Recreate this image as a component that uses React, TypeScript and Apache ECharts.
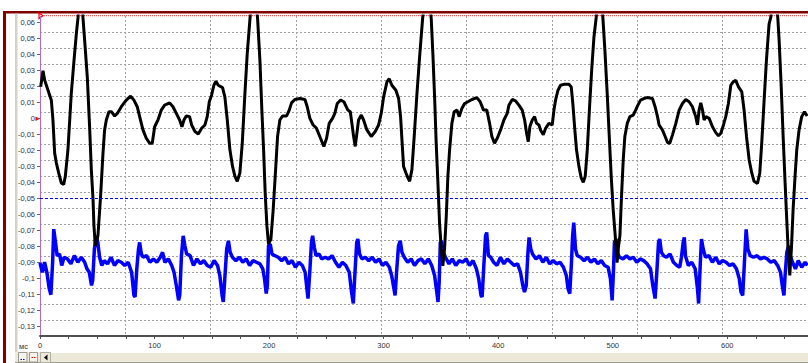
import React, { useEffect, useRef } from "react";
import * as echarts from "echarts";

// [time ms, value]
const blackTrace: [number, number][] = [
  [0.6, 0.02], [2.6, 0.03], [4.1, 0.024], [7.0, 0.0178], [9.9, 0.0116], [11.3, -0.0008], [12.8, -0.0215],
  [14.3, -0.0277], [16.3, -0.0339], [18.6, -0.0401], [20.7, -0.0411], [22.1, -0.036], [24.4, -0.0194],
  [27.3, 0.0157], [29.7, 0.0364], [31.7, 0.0529], [33.2, 0.0633], [35.4, 0.09], [37.5, 0.0633], [39.0, 0.0488],
  [41.3, 0.026], [43.3, -0.0049], [44.8, -0.0318], [46.3, -0.0504], [47.1, -0.067], [48.3, -0.0794],
  [50.6, -0.073], [52.9, -0.0483], [55.0, -0.0215], [56.4, -0.007], [57.9, -0.0008], [60.2, 0.0044],
  [62.3, 0.0044], [65.2, 0.0017], [67.5, 0.0033], [71.0, 0.0075], [75.3, 0.0116], [79.1, 0.0141],
  [82.0, 0.0116], [84.9, 0.0075], [87.0, 0.0013], [89.9, -0.007], [92.8, -0.0122], [95.7, -0.0153],
  [98.0, -0.0153], [100.1, -0.005], [103.0, -0.0008], [105.9, 0.0054], [108.8, 0.0085], [113.2, 0.0099],
  [116.1, 0.0075], [119.0, 0.0033], [121.9, -0.0008], [123.9, -0.005], [125.7, -0.0008], [127.7, 0.0017],
  [130.6, 0.0013], [132.4, -0.0039], [135.3, -0.008], [138.2, -0.0095], [141.1, -0.006], [144.0, -0.0039],
  [146.0, 0.0013], [147.8, 0.0106], [149.8, 0.0147], [151.8, 0.0209], [153.6, 0.0234], [155.6, 0.0209],
  [159.4, 0.0194], [161.4, 0.0137], [163.5, -0.0008], [165.8, -0.0194], [168.1, -0.0298], [170.2, -0.036],
  [172.2, -0.0391], [174.5, -0.0339], [176.6, -0.0153], [178.9, 0.0157], [180.9, 0.0405], [183.3, 0.0622],
  [186.6, 0.09], [190.0, 0.0622], [192.0, 0.0364], [193.7, 0.0054], [195.2, -0.0194], [196.6, -0.0463],
  [198.1, -0.067], [199.5, -0.0783], [201.6, -0.0752], [203.6, -0.0566], [205.7, -0.0318], [207.4, -0.0111],
  [209.4, -0.0008], [211.8, 0.0017], [215.3, 0.0017], [217.6, 0.0054], [219.6, 0.0099], [222.5, 0.012],
  [226.9, 0.0126], [231.3, 0.012], [233.3, 0.0075], [235.6, 0.0002], [238.5, -0.0039], [241.4, -0.006],
  [244.9, -0.0122], [247.8, -0.0173], [250.2, -0.0122], [252.5, -0.0029], [255.4, 0.0002], [257.4, 0.0033],
  [259.5, 0.0095], [262.4, 0.0116], [265.3, 0.0106], [268.8, 0.0054], [270.9, 0.0044], [272.3, -0.0029],
  [273.8, -0.0111], [275.2, -0.0173], [276.7, -0.009], [278.1, -0.0008], [280.5, 0.0023], [282.5, -0.0008],
  [285.4, -0.007], [289.2, -0.0111], [292.7, -0.008], [295.6, -0.0039], [297.9, 0.0033], [300.0, 0.0137],
  [302.9, 0.023], [304.9, 0.025], [307.2, 0.0209], [310.7, 0.0178], [313.1, 0.0126], [314.8, 0.0013],
  [316.0, -0.0132], [317.4, -0.0298], [319.5, -0.0339], [321.2, -0.037], [322.7, -0.0391], [324.7, -0.0318],
  [326.7, -0.0111], [329.1, 0.0157], [331.4, 0.0385], [334.0, 0.0622], [337.8, 0.09], [341.6, 0.0622],
  [343.0, 0.0405], [344.5, 0.0137], [345.9, -0.0153], [347.4, -0.04], [348.8, -0.0649], [350.3, -0.0814],
  [351.7, -0.092], [353.2, -0.0814], [354.7, -0.0608], [356.1, -0.036], [357.6, -0.0194], [359.6, -0.0029],
  [361.6, 0.0044], [364.0, 0.0054], [366.0, 0.0013], [368.3, 0.0064], [370.7, 0.0095], [373.6, 0.0106],
  [377.1, 0.012], [381.4, 0.0132], [384.3, 0.0106], [387.2, 0.0054], [390.1, 0.0054], [392.5, -0.0029],
  [394.5, -0.0111], [396.8, -0.0153], [399.2, -0.0122], [402.1, -0.007], [405.0, -0.0008], [407.9, 0.0033],
  [409.4, 0.0085], [412.3, 0.012], [415.2, 0.0112], [418.1, 0.0085], [421.0, 0.0054], [423.1, -0.0008],
  [424.8, -0.009], [426.3, -0.0143], [427.7, -0.0049], [429.8, -0.0008], [431.8, 0.0013], [433.5, -0.0029],
  [435.6, -0.0039], [437.0, -0.007], [439.4, -0.0101], [441.4, -0.006], [444.3, -0.0029], [447.2, -0.0039],
  [448.7, 0.0054], [450.1, 0.0116], [452.2, 0.0178], [454.5, 0.0209], [457.4, 0.0215], [461.8, 0.0215],
  [463.8, 0.0199], [465.2, 0.0095], [466.7, -0.005], [468.4, -0.0194], [470.5, -0.0298], [472.5, -0.037],
  [474.3, -0.0397], [476.0, -0.036], [477.8, -0.0194], [479.8, 0.0075], [481.8, 0.0323], [483.6, 0.0509],
  [485.6, 0.0633], [488.5, 0.09], [491.4, 0.0633], [493.2, 0.0426], [495.2, 0.0157], [497.0, -0.0111],
  [498.7, -0.036], [500.4, -0.0566], [502.2, -0.0732], [503.8, -0.09], [505.0, -0.0804], [506.3, -0.073],
  [507.7, -0.0483], [509.2, -0.0256], [510.6, -0.0111], [512.7, -0.0029], [515.0, 0.0013], [517.9, 0.0023],
  [520.0, 0.0054], [522.0, 0.0085], [524.3, 0.0116], [527.2, 0.0126], [530.1, 0.0132], [534.7, 0.0126],
  [537.0, 0.0075], [539.1, 0.0013], [540.5, -0.0039], [543.4, -0.007], [545.8, -0.0111], [547.8, -0.0149],
  [549.8, -0.0153], [552.2, -0.0101], [555.1, -0.0029], [558.0, 0.0054], [560.9, 0.0095], [563.8, 0.012],
  [566.7, 0.0106], [569.6, 0.0075], [572.5, 0.0013], [574.0, -0.0039], [575.4, 0.0054], [576.9, 0.0099],
  [578.4, 0.0054], [579.8, -0.0008], [581.3, 0.0013], [584.2, 0.0002], [587.1, -0.005], [590.0, -0.0087],
  [592.3, -0.0107], [594.4, -0.0091], [596.7, -0.0039], [598.7, 0.0013], [601.0, 0.0095], [603.1, 0.0209],
  [605.1, 0.023], [607.4, 0.024], [609.8, 0.0199], [612.7, 0.0168], [614.7, 0.0054], [616.8, -0.0111],
  [619.1, -0.0256], [621.4, -0.0339], [623.4, -0.0391], [626.4, -0.0405], [628.4, -0.0339], [630.1, -0.0153],
  [632.2, 0.0116], [634.2, 0.0364], [636.5, 0.0591], [638.0, 0.0633], [640.9, 0.09], [644.1, 0.0633],
  [645.3, 0.0488], [647.0, 0.0219], [648.8, -0.0111], [650.5, -0.04], [652.2, -0.067], [653.4, -0.0856],
  [654.6, -0.098], [656.0, -0.0814], [657.5, -0.0566], [659.2, -0.036], [660.7, -0.0194], [662.7, -0.007],
  [665.0, 0.0013], [667.4, 0.0044], [669.7, 0.0017],
];

const blueTrace: [number, number][] = [
  [0, -0.09], [2, -0.096], [4, -0.0897], [6, -0.096], [8, -0.106], [9.5, -0.11], [11, -0.09], [12, -0.069],
  [13.5, -0.077], [15, -0.0856], [17, -0.0845], [19, -0.0917], [21, -0.0866], [24, -0.0876], [27, -0.0907],
  [30, -0.0856], [33, -0.0897], [36, -0.0866], [39, -0.0897], [41, -0.0938], [43, -0.096], [45, -0.1042],
  [46, -0.101], [47.5, -0.0814], [49, -0.0732], [50.5, -0.0773], [52, -0.0866], [54, -0.0917], [56, -0.0887],
  [59, -0.0907], [62, -0.0866], [65, -0.0917], [68, -0.0887], [71, -0.0897], [74, -0.0917], [77, -0.0897],
  [80, -0.096], [82, -0.1104], [83, -0.1114], [84.5, -0.0938], [86, -0.0814], [87, -0.0773], [88.5, -0.0845],
  [90, -0.0866], [93, -0.0856], [96, -0.0897], [99, -0.0876], [102, -0.0897], [105, -0.0866], [107, -0.0835],
  [109, -0.0897], [112, -0.0876], [115, -0.0917], [117, -0.096], [119, -0.1042], [121, -0.1135], [122, -0.1104],
  [123.5, -0.0856], [125, -0.0732], [126.5, -0.0794], [128, -0.0845], [131, -0.0856], [134, -0.0917],
  [137, -0.0876], [140, -0.0907], [143, -0.0887], [146, -0.0917], [149, -0.0928], [152, -0.0887],
  [155, -0.0917], [157, -0.098], [159, -0.1104], [160, -0.1145], [161.5, -0.098], [163, -0.0814],
  [164.5, -0.0763], [166, -0.0835], [168, -0.0866], [171, -0.0887], [174, -0.0866], [177, -0.0897],
  [180, -0.0876], [183, -0.0917], [186, -0.0887], [189, -0.0897], [192, -0.0907], [194.5, -0.0938],
  [196, -0.1], [197.5, -0.1093], [198.5, -0.1042], [199.5, -0.0794], [201, -0.0783], [202.5, -0.0845],
  [205, -0.0856], [208, -0.0866], [211, -0.0887], [214, -0.0866], [217, -0.0907], [220, -0.0887],
  [223, -0.0928], [226, -0.0897], [229, -0.0917], [231.5, -0.096], [233, -0.1062], [234, -0.1124],
  [235.5, -0.096], [237, -0.0773], [238, -0.0732], [239.5, -0.0804], [241, -0.0856], [243.5, -0.0845],
  [246, -0.0876], [249, -0.0866], [252, -0.0876], [255, -0.0856], [258, -0.0897], [261, -0.0928],
  [264, -0.0897], [267, -0.0917], [270, -0.096], [272, -0.1083], [273.5, -0.1155], [275, -0.096],
  [276.5, -0.0773], [277.5, -0.0752], [279, -0.0845], [281, -0.0876], [284, -0.0866], [287, -0.0887],
  [290, -0.0866], [293, -0.0897], [296, -0.0876], [299, -0.0917], [302, -0.0897], [305, -0.0928],
  [307, -0.098], [309, -0.1062], [310, -0.1104], [311.5, -0.0938], [313, -0.0794], [314.5, -0.0763],
  [316, -0.0835], [318, -0.0866], [321, -0.0897], [324, -0.0876], [327, -0.0917], [330, -0.0887],
  [333, -0.0876], [336, -0.0907], [339, -0.0876], [342, -0.0917], [344.5, -0.098], [346, -0.1062],
  [347.5, -0.1145], [348.5, -0.1021], [349.5, -0.0773], [350.5, -0.0763], [352, -0.0835], [354, -0.0866],
  [357, -0.0907], [360, -0.0876], [363, -0.0917], [366, -0.0887], [369, -0.0897], [372, -0.0876],
  [375, -0.0917], [378, -0.0887], [381, -0.0938], [383, -0.1], [385, -0.1104], [386, -0.1114],
  [387.5, -0.0917], [389, -0.0732], [390, -0.0711], [391.5, -0.0856], [393.5, -0.0866], [396, -0.0897],
  [399, -0.0917], [402, -0.0866], [405, -0.0907], [408, -0.0876], [411, -0.0897], [414, -0.0917],
  [417, -0.0907], [419.5, -0.096], [421.5, -0.1042], [423, -0.1083], [424.5, -0.1042], [426, -0.0835],
  [427, -0.0742], [428.5, -0.0814], [430, -0.0845], [433, -0.0876], [436, -0.0856], [439, -0.0897],
  [442, -0.0866], [445, -0.0907], [448, -0.0887], [451, -0.0907], [454, -0.0897], [457, -0.0928],
  [459.5, -0.098], [461, -0.1062], [462.5, -0.1093], [464, -0.0897], [465, -0.0732], [466, -0.065],
  [467.5, -0.0814], [469, -0.0856], [472, -0.0866], [475, -0.0887], [478, -0.0866], [481, -0.0897],
  [484, -0.0876], [487, -0.0907], [490, -0.0887], [493, -0.0917], [496, -0.0928], [498, -0.1],
  [499.5, -0.1135], [500.5, -0.098], [501.5, -0.0773], [503, -0.0752], [504.5, -0.0845], [506, -0.0866],
  [509, -0.0876], [512, -0.0856], [515, -0.0876], [518, -0.0866], [521, -0.0897], [524, -0.0876],
  [527, -0.0887], [530, -0.0907], [531, -0.0917], [533, -0.0938], [535, -0.1042], [537, -0.1124],
  [538.5, -0.096], [540, -0.0773], [541, -0.0752], [542.5, -0.0835], [544.5, -0.0856], [547, -0.0866],
  [550, -0.0845], [553, -0.0897], [556, -0.0917], [558.5, -0.0928], [560, -0.0866], [561.5, -0.0773],
  [562.5, -0.0742], [563.5, -0.0856], [566, -0.0917], [569, -0.0897], [572, -0.0938], [574, -0.1062],
  [575, -0.1155], [576.5, -0.0897], [577.5, -0.0752], [579, -0.0814], [581, -0.0866], [584, -0.0856],
  [587, -0.0897], [590, -0.0866], [593, -0.0907], [596, -0.0887], [599, -0.0897], [602, -0.0917],
  [605, -0.0907], [608, -0.0938], [610.5, -0.1], [612, -0.1083], [613.5, -0.1104], [615, -0.0897],
  [616.5, -0.0691], [618, -0.0814], [620, -0.0856], [623, -0.0866], [626, -0.0856], [629, -0.0876],
  [632, -0.0866], [635, -0.0876], [638, -0.0897], [641, -0.0887], [644, -0.0917], [646.5, -0.096],
  [648, -0.1042], [649.5, -0.1104], [650.5, -0.098], [652, -0.0835], [653.5, -0.0794], [655, -0.0856],
  [657, -0.0897], [659.5, -0.0938], [662, -0.0887], [665, -0.0928], [668, -0.0897], [670, -0.0917],
];

const xMin = 0;
const xMax = 670.5;
const xTickStep = 25;
const xLabelStep = 100;
const xGridDivisions = 9;
const yViewMin = -0.1358;
const yViewMax = 0.0642;
const yLabelMin = -0.13;
const yLabelMax = 0.06;
const yStep = 0.01;
const cursorLevel = -0.0488;
const unitLabel = "мс";

const FONT = "Liberation Sans, Arial, sans-serif";

function fmtY(v: number): string {
  const r = Math.round(v * 100) / 100;
  if (r === 0) return "0";
  return String(r).replace(".", ",");
}

const off = { show: false };

export default function App() {
  const ref = useRef<HTMLDivElement>(null);
  useEffect(() => {
    if (!ref.current) return;
    const chart = echarts.init(ref.current, undefined, { renderer: "svg" });
    const dash = { color: "#a0a0a0", type: [2, 2] as number[], width: 1 };
    chart.setOption({
      animation: false,
      backgroundColor: "#ffffff",
      grid: [
        { left: 40, right: 0, top: 16, bottom: 27 },
        { left: 40, right: 0, top: 22.7, bottom: 36.3 },
        { left: 40, right: 0, top: 16, bottom: 27 },
      ],
      xAxis: [
        {
          type: "value", gridIndex: 0, min: xMin, max: xMax, interval: (xMax - xMin) / xGridDivisions,
          axisLine: off, axisTick: off, axisLabel: off,
          splitLine: { show: true, showMinLine: false, showMaxLine: false, lineStyle: dash },
        },
        {
          type: "value", gridIndex: 1, min: xMin, max: xMax,
          axisLine: off, axisTick: off, axisLabel: off, splitLine: off,
        },
        {
          type: "value", gridIndex: 2, min: xMin, max: xMax, interval: xTickStep,
          axisLine: { show: true, onZero: false, lineStyle: { color: "#505050", width: 2 } },
          axisTick: { show: true, length: 3, lineStyle: { color: "#505050", width: 1 } },
          axisLabel: {
            show: true, margin: 5, fontSize: 7.5, color: "#333", fontFamily: FONT,
            showMaxLabel: false,
            formatter: (v: number) => (Math.abs(v % xLabelStep) < 1e-6 ? String(Math.round(v)) : ""),
          },
          splitLine: off,
        },
      ],
      yAxis: [
        {
          type: "value", gridIndex: 0, min: yViewMin, max: yViewMax, interval: yStep,
          axisLine: { show: true, onZero: false, lineStyle: { color: "#b36ac4", width: 1 } },
          axisTick: off, axisLabel: off,
          splitLine: { show: true, showMinLine: false, showMaxLine: false, lineStyle: dash },
        },
        {
          type: "value", gridIndex: 1, min: yLabelMin, max: yLabelMax, interval: yStep,
          axisLine: off,
          axisTick: { show: true, length: 3, lineStyle: { color: "#666", width: 1 } },
          axisLabel: { show: true, margin: 5, fontSize: 7.5, color: "#333", fontFamily: FONT, formatter: fmtY },
          splitLine: off,
        },
        {
          type: "value", gridIndex: 2, min: 0, max: 1,
          axisLine: off, axisTick: off, axisLabel: off, splitLine: off,
        },
      ],
      series: [
        {
          type: "line", xAxisIndex: 0, yAxisIndex: 0, data: blueTrace, showSymbol: false, symbol: "none",
          lineStyle: { color: "#0000ff", width: 3.5 }, clip: true,
          markLine: {
            silent: true, symbol: "none", label: { show: false },
            lineStyle: { color: "#0000ff", type: [3, 2], width: 1 },
            data: [{ yAxis: cursorLevel }],
          },
        },
        {
          type: "line", xAxisIndex: 0, yAxisIndex: 0, data: blackTrace, showSymbol: false, symbol: "none",
          lineStyle: { color: "#000000", width: 3 }, clip: true,
        },
      ],
      graphic: [
        { type: "rect", shape: { x: 3, y: 11, width: 3, height: 352 }, style: { fill: "#800000" }, silent: true },
        { type: "rect", shape: { x: 3, y: 11, width: 805, height: 2.5 }, style: { fill: "#800000" }, silent: true },
        { type: "rect", shape: { x: 15, y: 13.5, width: 2.5, height: 339 }, style: { fill: "#d6d2ca" }, silent: true },
        { type: "line", shape: { x1: 40, y1: 15.7, x2: 808, y2: 15.7 }, style: { stroke: "#ff3030", lineWidth: 1, lineDash: [1, 1] }, silent: true },
        { type: "polygon", shape: { points: [[39, 13], [43, 15.7], [39, 18.5]] }, style: { fill: "#ffffff", stroke: "#ff0000", lineWidth: 1.2 }, silent: true },
        { type: "polygon", shape: { points: [[35.5, 116.5], [40, 118.7], [35.5, 121]] }, style: { fill: "#ff0000" }, silent: true },
        { type: "text", x: 19, y: 346, style: { text: unitLabel, fontSize: 7.5, fill: "#333", font: "7.5px Liberation Sans, Arial, sans-serif", verticalAlign: "middle" }, silent: true },
        { type: "rect", shape: { x: 15, y: 352, width: 793, height: 11 }, style: { fill: "#ece9d8" }, silent: true },
        { type: "line", shape: { x1: 15, y1: 362.5, x2: 808, y2: 362.5 }, style: { stroke: "#9d9a90", lineWidth: 1 }, silent: true },
        { type: "rect", shape: { x: 18.5, y: 352.5, width: 8.5, height: 9.5 }, style: { fill: "#f4f3ee", stroke: "#9d9a90", lineWidth: 1 }, silent: true },
        { type: "line", shape: { x1: 20.5, y1: 359.5, x2: 25, y2: 359.5 }, style: { stroke: "#0000ff", lineWidth: 1, lineDash: [1.5, 1] }, silent: true },
        { type: "rect", shape: { x: 29.5, y: 352.5, width: 8, height: 9.5 }, style: { fill: "#f4f3ee", stroke: "#9d9a90", lineWidth: 1 }, silent: true },
        { type: "line", shape: { x1: 31.5, y1: 357.5, x2: 36, y2: 357.5 }, style: { stroke: "#ff0000", lineWidth: 1, lineDash: [1.5, 1] }, silent: true },
        { type: "rect", shape: { x: 40.5, y: 352.5, width: 10, height: 10 }, style: { fill: "#ece9d8", stroke: "#b0ada2", lineWidth: 1 }, silent: true },
        { type: "polygon", shape: { points: [[47.5, 354.5], [44, 357.5], [47.5, 360.5]] }, style: { fill: "#000" }, silent: true },
        { type: "line", shape: { x1: 51, y1: 352.5, x2: 808, y2: 352.5 }, style: { stroke: "#ffffff", lineWidth: 1 }, silent: true },
      ],
    });
    return () => chart.dispose();
  }, []);
  return (
    <div style={{ position: "absolute", left: 0, top: 0, width: 808, height: 363, background: "#fff" }}>
      <div ref={ref} style={{ width: 808, height: 363 }} />
    </div>
  );
}
